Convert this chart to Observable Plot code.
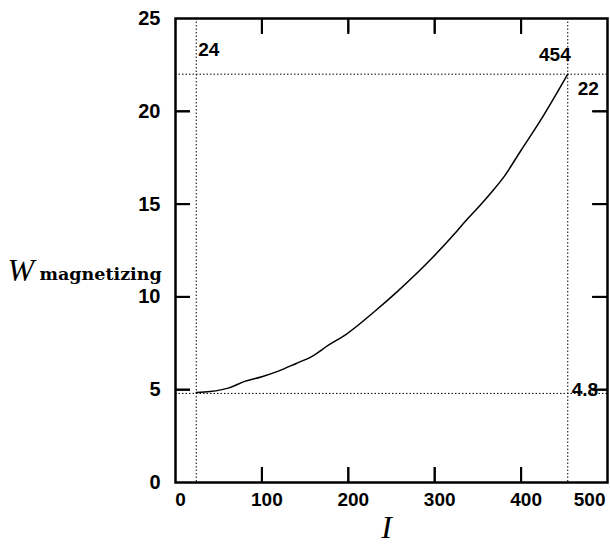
<!DOCTYPE html>
<html>
<head>
<meta charset="utf-8">
<script src="https://cdn.jsdelivr.net/npm/d3@7"></script>
<script src="https://cdn.jsdelivr.net/npm/@observablehq/plot@0.6"></script>
<style>
  html, body { margin: 0; padding: 0; background: #fff; }
  #chart svg { display: block; }
</style>
</head>
<body>
<div id="chart"></div>
<script>
// Data
const current = [24, 40, 62, 80, 100, 119, 139, 158, 177, 198, 230, 257, 295, 323, 336, 350, 365, 379, 400, 425, 454];
const energy  = [4.85, 4.9, 5.1, 5.45, 5.7, 6.0, 6.4, 6.8, 7.4, 8.0, 9.2, 10.3, 12.0, 13.4, 14.1, 14.8, 15.6, 16.4, 17.9, 19.7, 22.0];
const xTicks = [0, 100, 200, 300, 400, 500];
const yTicks = [0, 5, 10, 15, 20, 25];
const innerXTicks = [100, 200, 300, 400];
const innerYTicks = [5, 10, 15, 20];
const markerI = [24, 454];
const markerW = [4.8, 22];

const curveData = current.map((I, i) => ({I, W: energy[i]}));

const sans = "'Liberation Sans', Arial, sans-serif";
const serif = "'Liberation Serif', 'DejaVu Serif', serif";

const widthPx = 610, heightPx = 548;
const mL = 175, mR = 3, mT = 18, mB = 66;
const plotW = widthPx - mL - mR, plotH = heightPx - mT - mB;
const xDom = [0, 500], yDom = [0, 25];
const tickLen = 15, tickW = 2;

const blank = () => "";

const chart = Plot.plot({
  width: widthPx,
  height: heightPx,
  marginLeft: mL,
  marginRight: mR,
  marginTop: mT,
  marginBottom: mB,
  style: {fontFamily: sans, background: "#fff", color: "#000"},
  x: {domain: xDom, axis: null},
  y: {domain: yDom, axis: null},
  marks: [
    // dotted reference lines
    Plot.ruleX(markerI, {x: d => d, stroke: "#000", strokeWidth: 1, strokeDasharray: "1.5,2"}),
    Plot.ruleY(markerW, {y: d => d, stroke: "#000", strokeWidth: 1, strokeDasharray: "1.5,2"}),
    // curve
    Plot.line(curveData, {x: "I", y: "W", stroke: "#000", strokeWidth: 1.5, curve: "monotone-x"}),
    // inward ticks on all four sides (axis marks with negative tick size)
    Plot.axisX(innerXTicks, {anchor: "bottom", tickSize: -tickLen, tickFormat: blank, label: null, stroke: "#000", strokeWidth: tickW}),
    Plot.axisX(innerXTicks, {anchor: "top", tickSize: -tickLen, tickFormat: blank, label: null, stroke: "#000", strokeWidth: tickW}),
    Plot.axisY(innerYTicks, {anchor: "left", tickSize: -tickLen, tickFormat: blank, label: null, stroke: "#000", strokeWidth: tickW}),
    Plot.axisY(innerYTicks, {anchor: "right", tickSize: -tickLen, tickFormat: blank, label: null, stroke: "#000", strokeWidth: tickW}),
    // x tick labels
    Plot.text(xTicks.filter(d => d < 500), {x: d => d, text: d => String(d), frameAnchor: "bottom", dy: 23, dx: 5,
      fontSize: 19, fontWeight: "bold", fill: "#000"}),
    Plot.text(xTicks.filter(d => d === 500), {x: d => d, text: d => String(d), frameAnchor: "bottom", dy: 23, dx: -2,
      textAnchor: "end", fontSize: 19, fontWeight: "bold", fill: "#000"}),
    // y tick labels
    Plot.text(yTicks, {y: d => d, text: d => String(d), frameAnchor: "left", dx: -15, textAnchor: "end",
      fontSize: 20, fontWeight: "bold", fill: "#000"}),
    // annotations
    Plot.text(["24"], {x: () => markerI[0], frameAnchor: "top", dy: 24, dx: 2, textAnchor: "start",
      fontSize: 19, fontWeight: "bold", fill: "#000"}),
    Plot.text(["454"], {x: () => markerI[1], frameAnchor: "top", dy: 29, dx: 3, textAnchor: "end",
      fontSize: 19, fontWeight: "bold", fill: "#000"}),
    Plot.text(["22"], {x: () => markerI[1], y: () => markerW[1], dy: 15, dx: 10, textAnchor: "start",
      fontSize: 19, fontWeight: "bold", fill: "#000"}),
    Plot.text(["4.8"], {x: () => markerI[1], y: () => markerW[0], dy: -4, dx: 4, textAnchor: "start",
      fontSize: 19, fontWeight: "bold", fill: "#000"}),
    // axis titles
    Plot.text(["I"], {frameAnchor: "bottom", dy: 55, dx: -5, fontFamily: serif, fontStyle: "italic",
      fontSize: 32, fill: "#000"}),
    Plot.text(["W"], {frameAnchor: "left", dx: -168, dy: 20, textAnchor: "start", fontFamily: serif,
      fontStyle: "italic", fontSize: 32, fill: "#000"}),
    Plot.text(["magnetizing"], {frameAnchor: "left", dx: -136, dy: 24, textAnchor: "start",
      fontFamily: "'DejaVu Serif', serif", fontWeight: "bold", fontSize: 17.5, fill: "#000"}),
    // frame
    Plot.frame({stroke: "#000", strokeWidth: 2.5}),
    // same inward ticks as rules as well
    Plot.ruleX(innerXTicks, {x: d => d, insetTop: plotH - tickLen, stroke: "#000", strokeWidth: tickW}),
    Plot.ruleX(innerXTicks, {x: d => d, insetBottom: plotH - tickLen, stroke: "#000", strokeWidth: tickW}),
    Plot.ruleY(innerYTicks, {y: d => d, insetRight: plotW - tickLen, stroke: "#000", strokeWidth: tickW}),
    Plot.ruleY(innerYTicks, {y: d => d, insetLeft: plotW - tickLen, stroke: "#000", strokeWidth: tickW})
  ]
});

document.getElementById("chart").appendChild(chart);
</script>
</body>
</html>
